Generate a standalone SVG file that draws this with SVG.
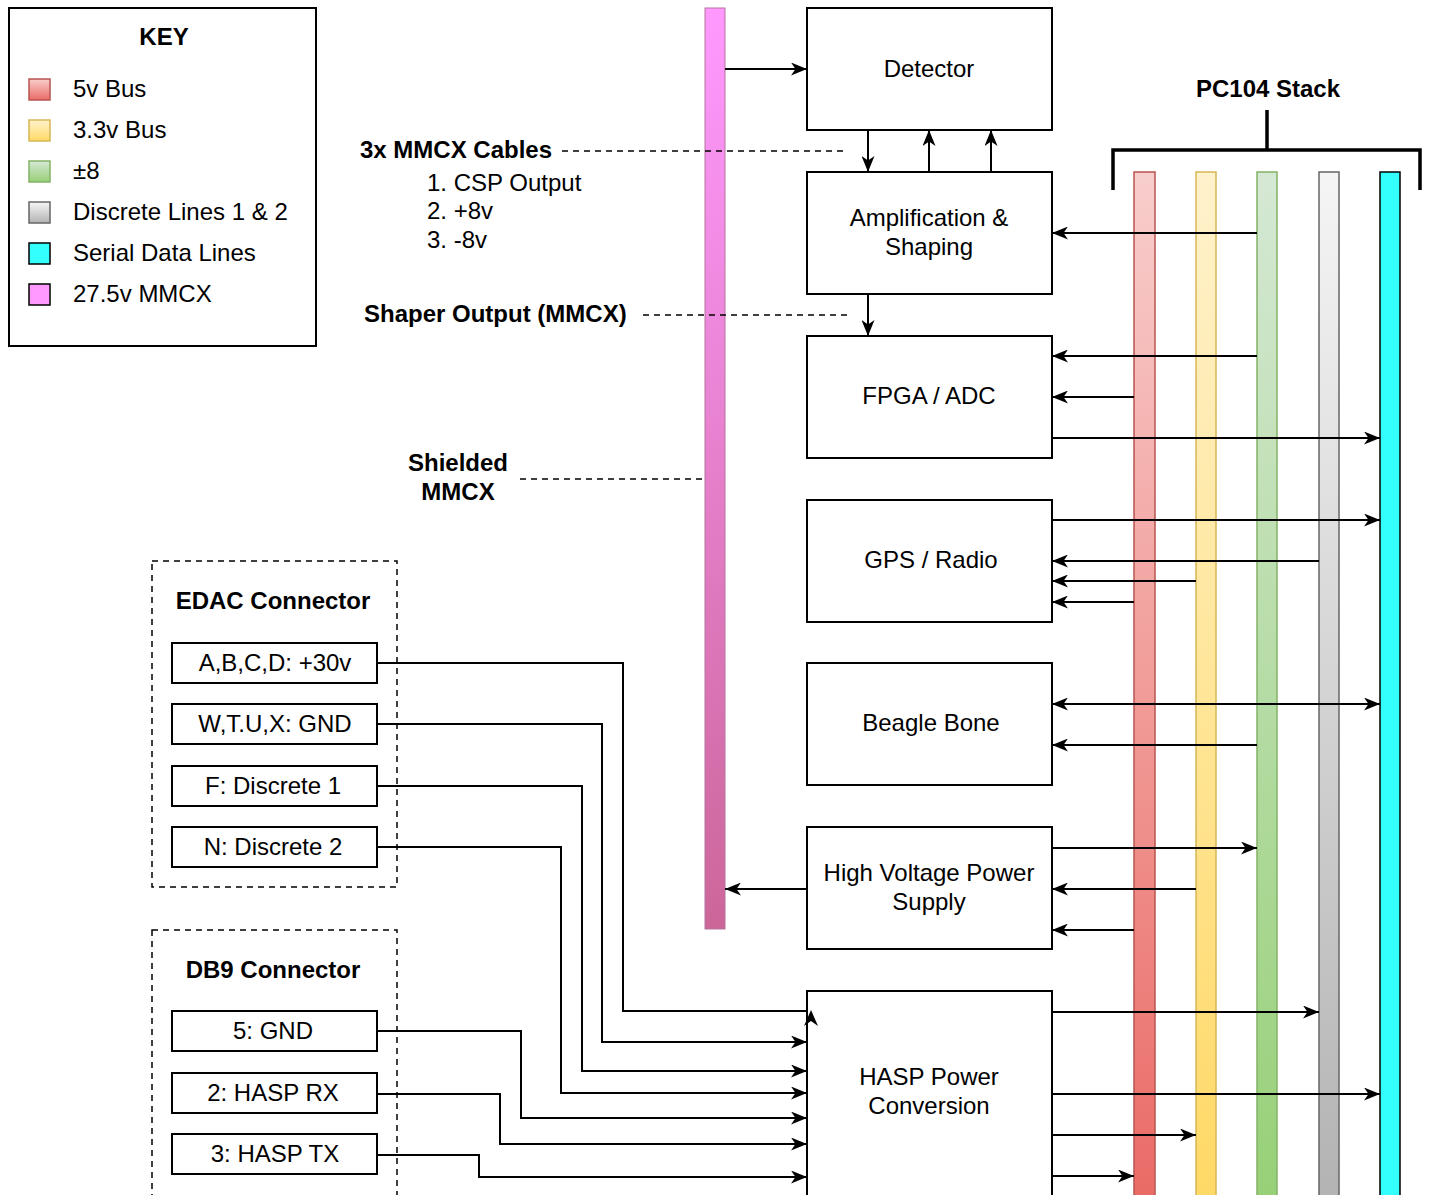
<svg xmlns="http://www.w3.org/2000/svg" width="1429" height="1195" viewBox="0 0 1429 1195">
<defs>
<style>
text{font-family:"Liberation Sans",Arial,sans-serif;font-size:24px;fill:#000}
.b{font-weight:bold}
.m{text-anchor:middle}
.box{fill:#fff;stroke:#000;stroke-width:2}
.ln{fill:none;stroke:#000;stroke-width:2}
.dash{fill:none;stroke:#000;stroke-width:1.5;stroke-dasharray:6 5}
.a{marker-end:url(#arr)}
.a2{marker-end:url(#arr);marker-start:url(#arrs)}
</style>
<linearGradient id="gR" x1="0" y1="0" x2="0" y2="1"><stop offset="0" stop-color="#f8cecc"/><stop offset="1" stop-color="#ea6b66"/></linearGradient>
<linearGradient id="gY" x1="0" y1="0" x2="0" y2="1"><stop offset="0" stop-color="#fff2cc"/><stop offset="1" stop-color="#ffd966"/></linearGradient>
<linearGradient id="gG" x1="0" y1="0" x2="0" y2="1"><stop offset="0" stop-color="#d5e8d4"/><stop offset="1" stop-color="#97d077"/></linearGradient>
<linearGradient id="gS" x1="0" y1="0" x2="0" y2="1"><stop offset="0" stop-color="#f5f5f5"/><stop offset="1" stop-color="#b3b3b3"/></linearGradient>
<linearGradient id="gP" x1="0" y1="0" x2="0" y2="1"><stop offset="0" stop-color="#ff99ff"/><stop offset="1" stop-color="#cc6699"/></linearGradient>
<marker id="arr" viewBox="0 0 16 13" refX="16" refY="6.5" markerWidth="16" markerHeight="13" markerUnits="userSpaceOnUse" orient="auto"><path d="M0,0 L16,6.5 L0,13 L4.5,6.5 z" fill="#000"/></marker>
<marker id="arrs" viewBox="0 0 16 13" refX="16" refY="6.5" markerWidth="16" markerHeight="13" markerUnits="userSpaceOnUse" orient="auto-start-reverse"><path d="M0,0 L16,6.5 L0,13 L4.5,6.5 z" fill="#000"/></marker>
</defs>
<rect width="1429" height="1195" fill="#fff"/>

<g id="key">
<rect x="9" y="8" width="307" height="338" fill="#fff" stroke="#000" stroke-width="2"/>
<text class="b m" x="164" y="45">KEY</text>
<rect x="29" y="79" width="21" height="21" fill="url(#gR)" stroke="#b85450" stroke-width="1.5"/>
<text x="73" y="97">5v Bus</text>
<rect x="29" y="120" width="21" height="21" fill="url(#gY)" stroke="#d6b656" stroke-width="1.5"/>
<text x="73" y="138">3.3v Bus</text>
<rect x="29" y="161" width="21" height="21" fill="url(#gG)" stroke="#82b366" stroke-width="1.5"/>
<text x="73" y="179">±8</text>
<rect x="29" y="202" width="21" height="21" fill="url(#gS)" stroke="#666" stroke-width="1.5"/>
<text x="73" y="220">Discrete Lines 1 &amp; 2</text>
<rect x="29" y="243" width="21" height="21" fill="#33ffff" stroke="#000" stroke-width="1.5"/>
<text x="73" y="261">Serial Data Lines</text>
<rect x="29" y="284" width="21" height="21" fill="#ff99ff" stroke="#000" stroke-width="1.5"/>
<text x="73" y="302">27.5v MMCX</text>
</g>

<g id="mmcx-bar">
<rect x="705" y="8" width="20" height="921" fill="url(#gP)" stroke="#b5739d" stroke-width="1"/>
</g>

<g id="pc104">
<text class="b m" x="1268" y="97">PC104 Stack</text>
<path d="M1267,110 V150 M1113,190 V150 H1420 V190" fill="none" stroke="#000" stroke-width="3.5"/>
<rect id="bus5v" x="1134" y="172" width="21" height="1030" fill="url(#gR)" stroke="#b85450" stroke-width="1.5"/>
<rect id="bus33" x="1196" y="172" width="20" height="1030" fill="url(#gY)" stroke="#d6b656" stroke-width="1.5"/>
<rect id="bus8" x="1257" y="172" width="20" height="1030" fill="url(#gG)" stroke="#82b366" stroke-width="1.5"/>
<rect id="busdisc" x="1319" y="172" width="20" height="1030" fill="url(#gS)" stroke="#666" stroke-width="1.5"/>
<rect id="busser" x="1380" y="172" width="20" height="1030" fill="#33ffff" stroke="#000" stroke-width="1.5"/>
</g>

<g id="detector"><rect class="box" x="807" y="8" width="245" height="122"/><text class="m" x="929" y="77">Detector</text></g>
<g id="amp"><rect class="box" x="807" y="172" width="245" height="122"/><text class="m" x="929" y="226">Amplification &amp;</text><text class="m" x="929" y="255">Shaping</text></g>
<g id="fpga"><rect class="box" x="807" y="336" width="245" height="122"/><text class="m" x="929" y="404">FPGA / ADC</text></g>
<g id="gps"><rect class="box" x="807" y="500" width="245" height="122"/><text class="m" x="931" y="568">GPS / Radio</text></g>
<g id="beagle"><rect class="box" x="807" y="663" width="245" height="122"/><text class="m" x="931" y="731">Beagle Bone</text></g>
<g id="hvps"><rect class="box" x="807" y="827" width="245" height="122"/><text class="m" x="929" y="881">High Voltage Power</text><text class="m" x="929" y="910">Supply</text></g>
<g id="hasp"><rect class="box" x="807" y="991" width="245" height="215"/><text class="m" x="929" y="1085">HASP Power</text><text class="m" x="929" y="1114">Conversion</text></g>

<g id="labels">
<text class="b" x="360" y="158">3x MMCX Cables</text>
<text x="427" y="191">1. CSP Output</text>
<text x="427" y="219">2. +8v</text>
<text x="427" y="248">3. -8v</text>
<text class="b" x="364" y="322">Shaper Output (MMCX)</text>
<text class="b m" x="458" y="471">Shielded</text>
<text class="b m" x="458" y="500">MMCX</text>
</g>

<g id="edac">
<rect x="152" y="561" width="245" height="326" fill="none" stroke="#000" stroke-width="1.5" stroke-dasharray="6 5"/>
<text class="b m" x="273" y="609">EDAC Connector</text>
<g id="pinA"><rect class="box" x="172" y="643" width="205" height="40"/><text class="m" x="275" y="671">A,B,C,D: +30v</text></g>
<g id="pinW"><rect class="box" x="172" y="704" width="205" height="40"/><text class="m" x="275" y="732">W,T.U,X: GND</text></g>
<g id="pinF"><rect class="box" x="172" y="766" width="205" height="40"/><text class="m" x="273" y="794">F: Discrete 1</text></g>
<g id="pinN"><rect class="box" x="172" y="827" width="205" height="40"/><text class="m" x="273" y="855">N: Discrete 2</text></g>
</g>

<g id="db9">
<rect x="152" y="930" width="245" height="275" fill="none" stroke="#000" stroke-width="1.5" stroke-dasharray="6 5"/>
<text class="b m" x="273" y="978">DB9 Connector</text>
<g id="pin5"><rect class="box" x="172" y="1011" width="205" height="40"/><text class="m" x="273" y="1039">5: GND</text></g>
<g id="pin2"><rect class="box" x="172" y="1073" width="205" height="40"/><text class="m" x="273" y="1101">2: HASP RX</text></g>
<g id="pin3"><rect class="box" x="172" y="1134" width="205" height="40"/><text class="m" x="275" y="1162">3: HASP TX</text></g>
</g>

<g id="connectors">
<path class="ln a" d="M725,69 H807"/>
<path class="ln a" d="M868,130 V172"/>
<path class="ln a" d="M929,172 V130"/>
<path class="ln a" d="M991,172 V130"/>
<path class="ln a" d="M868,294 V336"/>
<path class="dash" d="M562,151 H848"/>
<path class="dash" d="M643,315 H848"/>
<path class="dash" d="M520,479 H705"/>

<path class="ln a" d="M1257,233 H1052"/>
<path class="ln a" d="M1257,356 H1052"/>
<path class="ln a" d="M1134,397 H1052"/>
<path class="ln a" d="M1052,438 H1380"/>
<path class="ln a" d="M1052,520 H1380"/>
<path class="ln a" d="M1319,561 H1052"/>
<path class="ln a" d="M1196,581 H1052"/>
<path class="ln a" d="M1134,602 H1052"/>
<path class="ln a2" d="M1052,704 H1380"/>
<path class="ln a" d="M1257,745 H1052"/>
<path class="ln a" d="M1052,848 H1257"/>
<path class="ln a" d="M1196,889 H1052"/>
<path class="ln a" d="M1134,930 H1052"/>
<path class="ln a" d="M807,889 H725"/>
<path class="ln a" d="M1052,1012 H1319"/>
<path class="ln a" d="M1052,1094 H1380"/>
<path class="ln a" d="M1052,1135 H1196"/>
<path class="ln a" d="M1052,1176 H1134"/>

<path class="ln" d="M377,663 H623 V1011 H807"/>
<path d="M811,1010 L818,1026 L811,1021 L804,1026 z" fill="#000"/>
<path class="ln a" d="M377,724 H602 V1042 H807"/>
<path class="ln a" d="M377,786 H582 V1071 H807"/>
<path class="ln a" d="M377,847 H561 V1093 H807"/>
<path class="ln a" d="M377,1031 H521 V1118 H807"/>
<path class="ln a" d="M377,1094 H500 V1144 H807"/>
<path class="ln a" d="M377,1155 H479 V1177 H807"/>
</g>
</svg>
